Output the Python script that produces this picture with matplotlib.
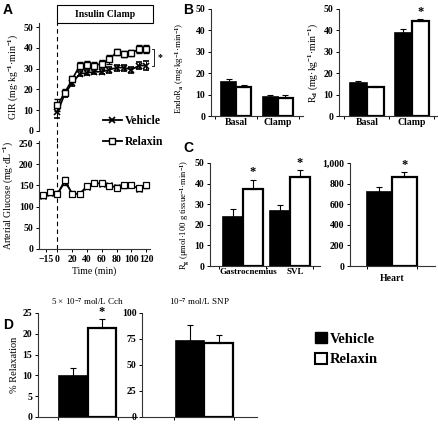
import matplotlib
matplotlib.use("Agg")
import matplotlib.pyplot as plt
import matplotlib.transforms as mtransforms
from matplotlib.patches import Rectangle, Patch
from matplotlib.lines import Line2D
import numpy as np

plt.rcParams['font.family'] = 'Liberation Serif'
plt.rcParams['font.weight'] = 'bold'
plt.rcParams['mathtext.fontset'] = 'custom'
plt.rcParams['mathtext.rm'] = 'Liberation Serif:bold'
plt.rcParams['mathtext.it'] = 'Liberation Serif:italic:bold'
plt.rcParams['mathtext.bf'] = 'Liberation Serif:bold'

W, H = 439, 424

# ---- data ----
# A: glucose infusion rate
gir_time = [0, 10, 20, 30, 40, 50, 60, 70, 80, 90, 100, 110, 120]
gir_vehicle = [9, 18, 23, 27.5, 28, 28.5, 28.5, 29.5, 30.5, 30.5, 29.5, 31.5, 31.5]
gir_vehicle_err = [2.5, 1.5, 1.5, 1.2, 1.2, 1.2, 1.2, 1.5, 1.5, 1.5, 1.5, 1.8, 2]
gir_relaxin = [12.5, 18.5, 25, 31.5, 32, 31.5, 32.5, 34.5, 38, 37, 37.5, 39.5, 39.5]
gir_relaxin_err = [3, 1.5, 1.5, 1.5, 1.5, 1.5, 1.8, 2, 1.5, 1.5, 1.5, 1.8, 2]

# A: arterial glucose
glu_time = [-20, -10, 0, 10, 20, 30, 40, 50, 60, 70, 80, 90, 100, 110, 120]
glu_vehicle = [125, 133, 129, 158, 130, 130, 147, 155, 154, 150, 146, 150, 151, 142, 150]
glu_vehicle_err = [5, 5, 5, 6, 5, 4, 4, 4, 4, 4, 5, 5, 4, 4, 5]
glu_relaxin = [128, 134, 131, 163, 131, 131, 149, 156, 155, 149, 145, 151, 150, 143, 151]
glu_relaxin_err = [5, 5, 5, 7, 5, 4, 4, 4, 4, 4, 5, 5, 4, 4, 5]
glu_ticks = [-15, 0, 20, 40, 60, 80, 100, 120]

# B
b_groups = ['Basal', 'Clamp']
endora_vehicle = [16, 8.7]
endora_vehicle_err = [1.2, 1.2]
endora_relaxin = [13.7, 8.3]
endora_relaxin_err = [0.7, 1.6]
rd_vehicle = [15.2, 39]
rd_vehicle_err = [1.3, 1.8]
rd_relaxin = [13.5, 44.5]
rd_relaxin_err = [0.6, 0.6]

# C
c_groups = ['Gastrocnemius', 'SVL']
rg_vehicle = [24, 26.5]
rg_vehicle_err = [3.5, 3.2]
rg_relaxin = [37.3, 43]
rg_relaxin_err = [4.5, 3.5]
heart_vehicle = [720]
heart_vehicle_err = [50]
heart_relaxin = [862]
heart_relaxin_err = [50]

# D
cch_vehicle = [9.8]
cch_vehicle_err = [1.9]
cch_relaxin = [21.5]
cch_relaxin_err = [2.0]
snp_vehicle = [73]
snp_vehicle_err = [15]
snp_relaxin = [71]
snp_relaxin_err = [8]

TICK = 7
unit_label = r'(mg·kg$^{-1}$·min$^{-1}$)'

fig = plt.figure(figsize=(W / 100, H / 100), dpi=100)


def px_axes(x0, y0, x1, y1):
    return fig.add_axes([x0 / W, 1 - y1 / H, (x1 - x0) / W, (y1 - y0) / H])


def style(ax, bottom=True):
    for s in ['top', 'right']:
        ax.spines[s].set_visible(False)
    ax.spines['bottom'].set_visible(bottom)
    for s in ['left', 'bottom']:
        ax.spines[s].set_linewidth(0.8)
        ax.spines[s].set_color('#333333')
    ax.tick_params(direction='out', length=2.5, width=0.7, labelsize=TICK, pad=1.5)
    ax.patch.set_alpha(0)


def bars(ax, vveh, eveh, vrel, erel, width, stars=(), star_gap=0):
    x = np.arange(len(vveh))
    ax.bar(x - width / 2, vveh, width, color='black', edgecolor='black', linewidth=1.2,
           yerr=[np.zeros(len(eveh)), eveh], capsize=2.5,
           error_kw=dict(elinewidth=0.8, capthick=0.8, ecolor='black'))
    ax.bar(x + width / 2, vrel, width, color='white', edgecolor='black', linewidth=1.6,
           yerr=[np.zeros(len(erel)), erel], capsize=2.5,
           error_kw=dict(elinewidth=0.8, capthick=0.8, ecolor='black'))
    for i in stars:
        ax.text(x[i] + width / 2, vrel[i] + erel[i] + star_gap, '*', ha='center',
                va='bottom', fontsize=9)
    ax.set_xticks(x)
    ax.tick_params(axis='x', length=0)
    ax.set_xticks(np.arange(len(vveh) + 1) - 0.5, minor=True)
    ax.tick_params(axis='x', which='minor', length=2.5, width=0.7)


# ---- A top: GIR ----
axA = px_axes(39, 23, 150, 131)
style(axA, bottom=False)
axA.errorbar(gir_time, gir_vehicle, yerr=gir_vehicle_err, color='black', marker='x',
             ms=4, mew=1.2, lw=1.2, capsize=2, elinewidth=0.7)
axA.errorbar(gir_time, gir_relaxin, yerr=gir_relaxin_err, color='black', marker='s',
             ms=4, mfc='white', mew=1.0, lw=1.2, capsize=2, elinewidth=0.7)
axA.set_xlim(-25, 125)
axA.set_ylim(0, 52)
axA.set_yticks([0, 10, 20, 30, 40, 50])
axA.set_xticks([])
axA.axvline(0, color='black', lw=0.8, ls=(0, (4, 3)), ymin=-0.1, clip_on=False)
axA.set_ylabel('GIR ' + unit_label, fontsize=TICK, labelpad=3)
trA = mtransforms.blended_transform_factory(axA.transData, axA.transAxes)
axA.add_patch(Rectangle((0, 1.0), 129, 18 / 108, transform=trA, fill=False,
                        edgecolor='black', lw=0.8, clip_on=False))
axA.text(64.5, 1 + 9 / 108, 'Insulin Clamp', transform=trA, ha='center', va='center',
         fontsize=TICK)
axA.plot([128, 130, 130, 128], [gir_relaxin[-1], gir_relaxin[-1], gir_vehicle[-1],
         gir_vehicle[-1]], color='black', lw=0.6, clip_on=False)
axA.text(138, (gir_relaxin[-1] + gir_vehicle[-1]) / 2, '*', ha='center', va='center',
         fontsize=7)

# ---- A bottom: glucose ----
axG = px_axes(39, 141, 150, 249)
style(axG)
axG.errorbar(glu_time, glu_vehicle, yerr=glu_vehicle_err, color='black', marker='x',
             ms=4, mew=1.0, lw=1.0, capsize=2, elinewidth=0.7)
axG.errorbar(glu_time, glu_relaxin, yerr=glu_relaxin_err, color='black', marker='s',
             ms=4, mfc='white', mew=0.9, lw=1.0, capsize=2, elinewidth=0.7)
axG.set_xlim(-25, 125)
axG.set_ylim(0, 255)
axG.set_yticks([0, 50, 100, 150, 200, 250])
axG.set_xticks(glu_ticks)
axG.axvline(0, color='black', lw=0.8, ls=(0, (4, 3)), ymax=1.0)
axG.set_xlabel('Time (min)', fontsize=TICK, labelpad=2)
axG.set_ylabel(r'Arterial Glucose (mg·dL$^{-1}$)', fontsize=TICK, labelpad=3)

a_handles = [Line2D([], [], color='black', marker='x', ms=4.5, mew=1.3, lw=1.3,
                    label='Vehicle'),
             Line2D([], [], color='black', marker='s', ms=4.5, mfc='white', mew=1.0,
                    lw=1.3, label='Relaxin')]
legA = fig.legend(handles=a_handles, loc='upper left',
                  bbox_to_anchor=(97 / W, 1 - 109 / H), frameon=False, fontsize=8.5,
                  handlelength=1.6, handletextpad=0.3, labelspacing=0.75, borderpad=0)
legA.set_zorder(10)

# ---- B ----
axB1 = px_axes(211, 9, 303, 116)
style(axB1)
bars(axB1, endora_vehicle, endora_vehicle_err, endora_relaxin, endora_relaxin_err, 0.36)
axB1.set_xlim(-0.6, 1.6)
axB1.set_ylim(0, 50)
axB1.set_xticklabels(b_groups, fontsize=TICK)
axB1.set_ylabel(r'EndoR$_{\mathrm{a}}$ ' + unit_label, fontsize=TICK - 0.6, labelpad=3)
axB1.yaxis.set_label_coords(-0.27, 0.45)

axB2 = px_axes(339, 9, 437, 116)
style(axB2)
bars(axB2, rd_vehicle, rd_vehicle_err, rd_relaxin, rd_relaxin_err, 0.38, stars=[1],
     star_gap=0.5)
axB2.set_xlim(-0.62, 1.56)
axB2.set_ylim(0, 50)
axB2.set_xticklabels(b_groups, fontsize=TICK)
axB2.set_ylabel(r'R$_{\mathrm{d}}$ ' + unit_label, fontsize=TICK, labelpad=3)

# ---- C ----
axC1 = px_axes(210, 163, 320, 266)
style(axC1)
bars(axC1, rg_vehicle, rg_vehicle_err, rg_relaxin, rg_relaxin_err, 0.42, stars=[0, 1],
     star_gap=0.8)
axC1.set_xlim(-0.70, 1.64)
axC1.set_ylim(0, 50)
axC1.set_xticks(np.arange(len(c_groups)) + 0.12)
axC1.set_xticklabels(c_groups, fontsize=TICK - 0.5)
axC1.set_ylabel(r'R$_{\mathrm{g}}$ (μmol·100 g tissue$^{-1}$·min$^{-1}$)', fontsize=TICK - 0.8,
                labelpad=3)

axC2 = px_axes(350, 163, 435, 266)
style(axC2)
bars(axC2, heart_vehicle, heart_vehicle_err, heart_relaxin, heart_relaxin_err, 0.5,
     stars=[0], star_gap=15)
axC2.set_xlim(-0.84, 0.86)
axC2.set_ylim(0, 1000)
axC2.set_yticks([0, 200, 400, 600, 800, 1000])
axC2.set_yticklabels(['0', '200', '400', '600', '800', '1,000'])
axC2.set_xticklabels(['Heart'], fontsize=TICK)
axC2.tick_params(axis='x', pad=6)

# ---- D ----
axD1 = px_axes(38, 313, 137, 417)
style(axD1)
bars(axD1, cch_vehicle, cch_vehicle_err, cch_relaxin, cch_relaxin_err, 0.48, stars=[0],
     star_gap=0.3)
axD1.set_xlim(-0.825, 0.825)
axD1.set_ylim(0, 25)
axD1.set_xticklabels([''])
axD1.set_ylabel('% Relaxation', fontsize=TICK + 0.5, labelpad=3)
axD1.set_title(r'5 × 10$^{-7}$ mol/L Cch', fontsize=TICK - 0.5, pad=6)

axD2 = px_axes(142, 313, 257, 417)
style(axD2)
bars(axD2, snp_vehicle, snp_vehicle_err, snp_relaxin, snp_relaxin_err, 0.48)
axD2.set_xlim(-1.04, 0.875)
axD2.set_ylim(0, 100)
axD2.set_yticks([0, 25, 50, 75, 100])
axD2.set_xticklabels([''])
axD2.set_title(r'10$^{-7}$ mol/L SNP', fontsize=TICK - 0.5, pad=6)

handles = [Patch(facecolor='black', edgecolor='black', label='Vehicle'),
           Patch(facecolor='white', edgecolor='black', linewidth=1.5, label='Relaxin')]
fig.legend(handles=handles, loc='upper left', bbox_to_anchor=(308 / W, 1 - 325 / H),
           frameon=False, fontsize=10.5, handlelength=0.8, handleheight=0.8,
           handletextpad=0.2, labelspacing=0.45, borderpad=0)

# panel letters
for lab, x, y in [('A', 3, 3), ('B', 183, 3), ('C', 183, 141), ('D', 3, 318)]:
    fig.text(x / W, 1 - y / H, lab, fontsize=10, fontweight='bold',
             family='Liberation Sans', va='top', ha='left')

fig.savefig('out.png', dpi=100)
